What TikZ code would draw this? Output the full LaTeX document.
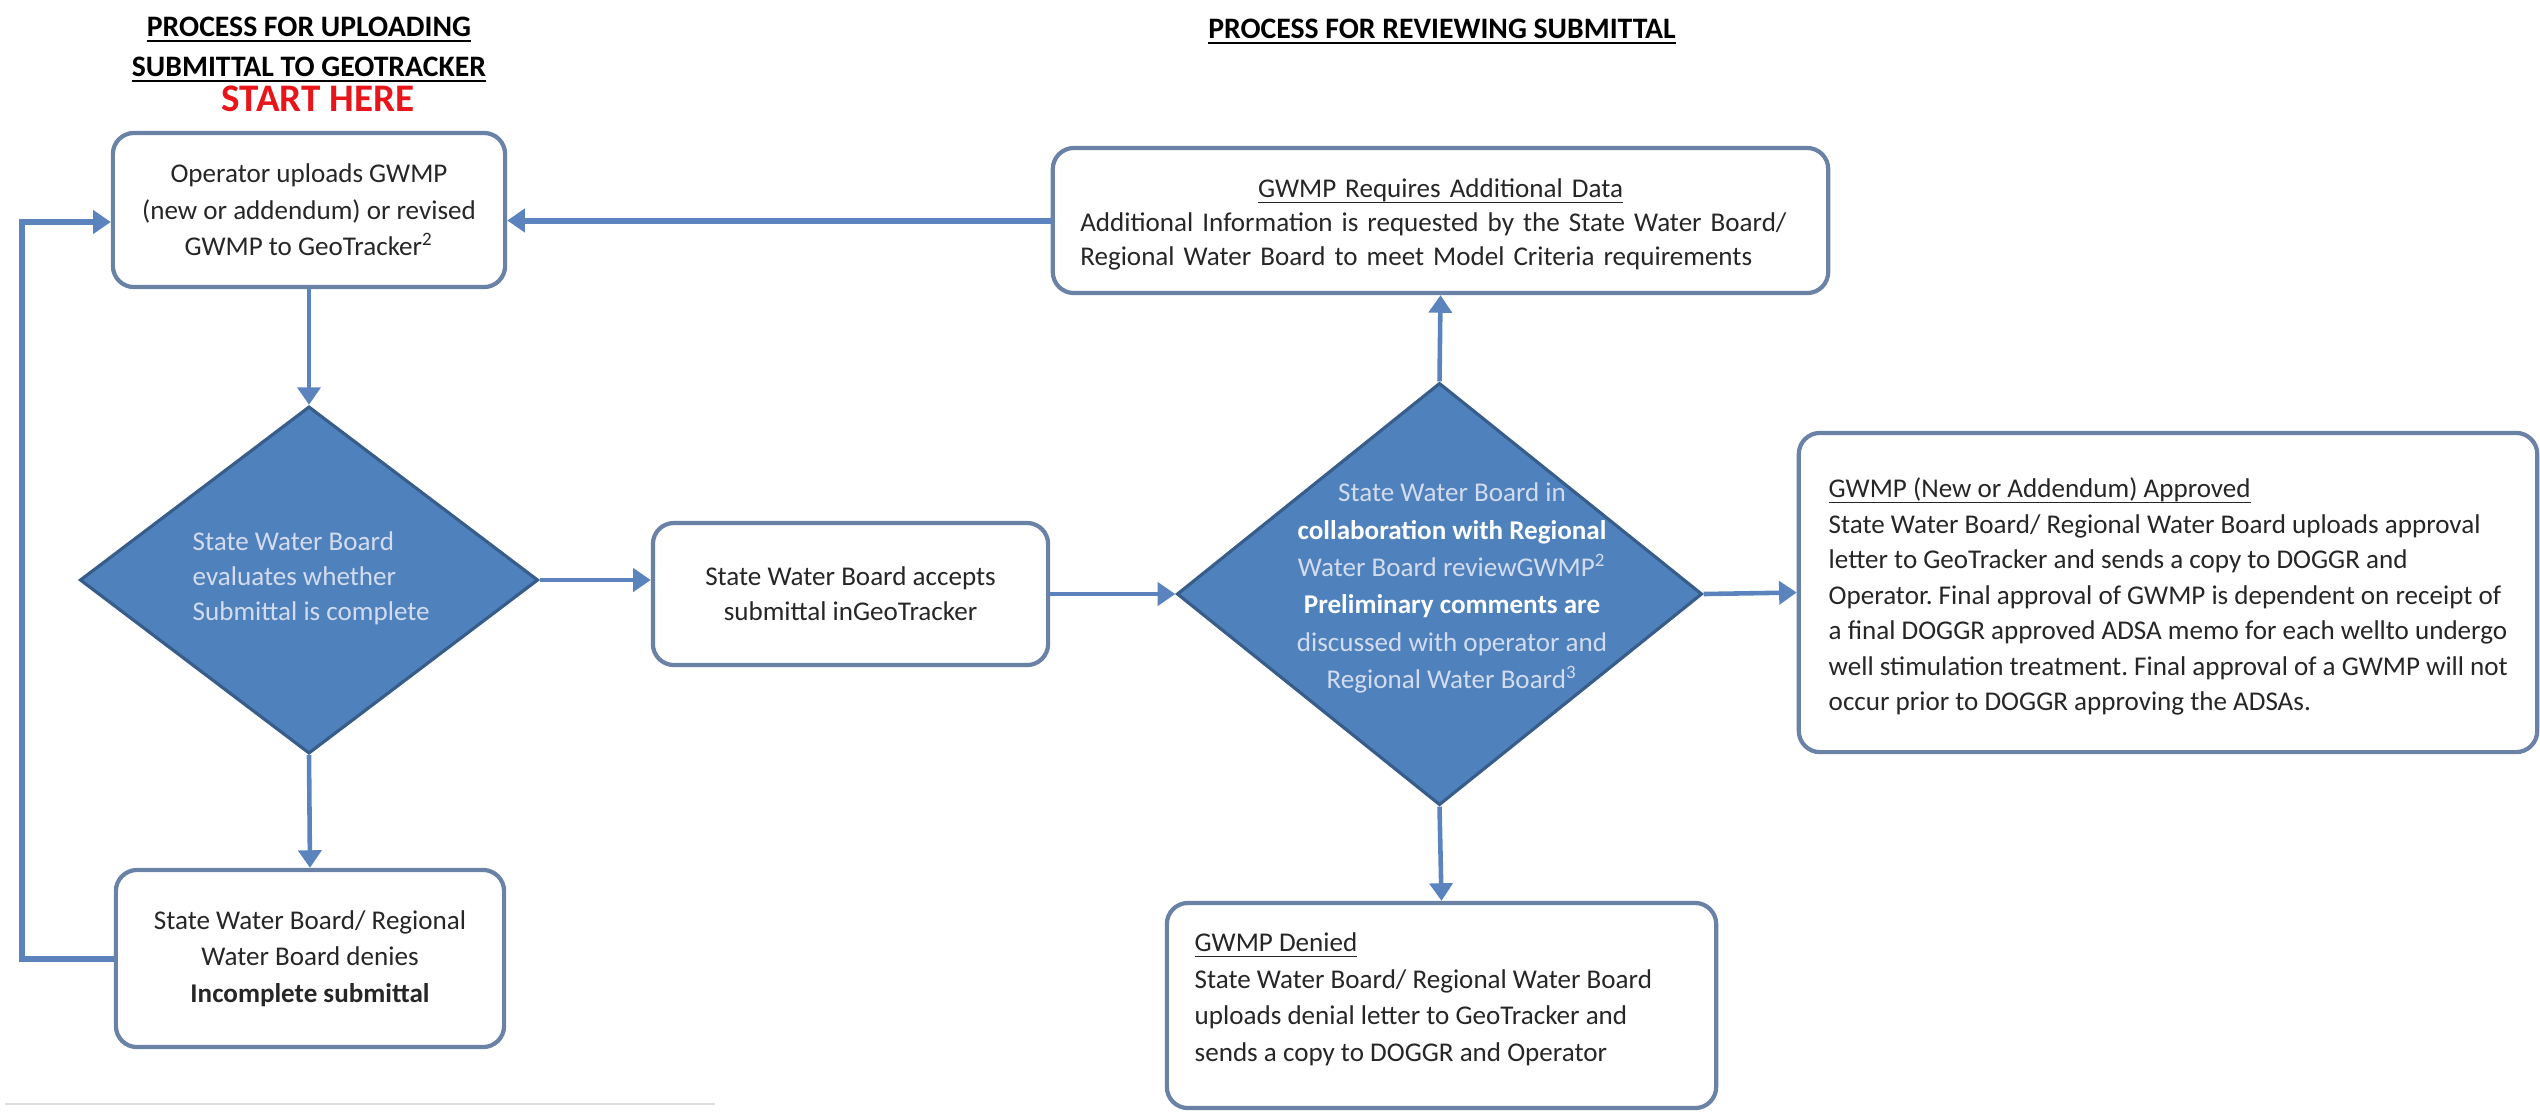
\documentclass[tikz,border=0pt]{standalone}
\usepackage{fontspec}
\setmainfont{Carlito}
\usetikzlibrary{shapes.geometric,arrows.meta}
\definecolor{dfill}{HTML}{4F81BD}
\definecolor{dline}{HTML}{385D8A}
\definecolor{bline}{HTML}{6A82A6}
\definecolor{aline}{HTML}{5B84BF}
\definecolor{dtext}{HTML}{D3DCEE}
\definecolor{sred}{HTML}{E8151B}
\newcommand{\myul}[1]{\underline{\smash{#1}}}
\frenchspacing
\begin{document}
\begin{tikzpicture}[x=0.01cm,y=-0.01cm,
  box/.style={draw=bline, line width=1.2pt, rounded corners=6pt, fill=white, inner sep=0pt, text=black!85, font=\fontsize{7.7pt}{10.2pt}\selectfont},
  btxt/.style={inner sep=0pt, text=black!85},
  dia/.style={diamond, draw=dline, line width=0.9pt, fill=dfill, inner sep=0pt},
  arr/.style={draw=aline, line width=1.3pt, -{Triangle[width=6.5pt,length=5pt]}},
  ttl/.style={font=\fontsize{8.45pt}{10pt}\selectfont\bfseries, text=black, inner sep=0pt, anchor=base},
  dtxt/.style={text=dtext, inner sep=0pt},
]
\useasboundingbox (0,0) rectangle (2540,1111);

% titles
\node[ttl] (t1a) at (309,36) {\myul{PROCESS FOR UPLOADING}};
\node[ttl] (t1b) at (309,76) {\myul{SUBMITTAL TO GEOTRACKER}};
\node[font=\fontsize{11.1pt}{12pt}\selectfont\bfseries, text=sred, inner sep=0pt, anchor=base] (start) at (318,111) {START HERE};
\node[ttl] (t2) at (1442,38) {\myul{PROCESS FOR REVIEWING SUBMITTAL}};

% left column
\node[box, minimum width=3.92cm, minimum height=1.54cm, align=center, font=\fontsize{7.7pt}{10.4pt}\selectfont] (b1) at (309,210)
  {Operator uploads GWMP\\(new or addendum) or revised\\GWMP to GeoTracker\textsuperscript{2}};
\node[dia, minimum width=4.58cm, minimum height=3.47cm] (d1) at (309,580) {};
\node[dtxt, align=left, anchor=west, font=\fontsize{7.7pt}{10pt}\selectfont] (d1t) at (192,578)
  {State Water Board\\evaluates whether\\Submittal is complete};
\node[box, minimum width=3.88cm, minimum height=1.77cm, align=center, font=\fontsize{7.7pt}{10.4pt}\selectfont] (inc) at (310,958.5)
  {State Water Board/ Regional\\Water Board denies\\\textbf{Incomplete submittal}};

% middle
\node[box, minimum width=3.95cm, minimum height=1.42cm, align=center, font=\fontsize{7.7pt}{10pt}\selectfont] (acc) at (850.5,594)
  {State Water Board accepts\\submittal inGeoTracker};

% right part
\node[box, minimum width=7.75cm, minimum height=1.45cm] (req) at (1440.5,220.5) {};
\node[btxt, text width=7.2cm, align=left, anchor=north, font=\fontsize{7.7pt}{9.6pt}\selectfont] (reqt) at (1440.5,197)
  {\makebox[\linewidth][c]{\myul{GWMP Requires Additional Data}}\\Additional Information is requested by the State Water Board/\\Regional Water Board to meet Model Criteria requirements};
\node[dia, minimum width=5.25cm, minimum height=4.22cm] (d2) at (1439.5,594) {};
\node[dtxt, align=center, font=\fontsize{7.7pt}{10.6pt}\selectfont] (d2t) at (1452,588)
  {State Water Board in\\\textcolor{white}{\textbf{collaboration with Regional}}\\Water Board reviewGWMP\textsuperscript{2}\\\textcolor{white}{\textbf{Preliminary comments are}}\\discussed with operator and\\Regional Water Board\textsuperscript{3}};
\node[box, minimum width=7.38cm, minimum height=3.19cm] (app) at (2168,592.5) {};
\node[btxt, align=left, anchor=north west, font=\fontsize{7.7pt}{10.1pt}\selectfont] (appt) at (1828,497)
  {\myul{GWMP (New or Addendum) Approved}\\State Water Board/ Regional Water Board uploads approval\\letter to GeoTracker and sends a copy to DOGGR and\\Operator. Final approval of GWMP is dependent on receipt of\\a final DOGGR approved ADSA memo for each wellto undergo\\well stimulation treatment. Final approval of a GWMP will not\\occur prior to DOGGR approving the ADSAs.};
\node[box, minimum width=5.49cm, minimum height=2.05cm] (den) at (1441.5,1005.5) {};
\node[btxt, align=left, anchor=north west, font=\fontsize{7.7pt}{10.4pt}\selectfont] (dent) at (1194,951)
  {\myul{GWMP Denied}\\State Water Board/ Regional Water Board\\uploads denial letter to GeoTracker and\\sends a copy to DOGGR and Operator};

% connectors
\draw[arr] (b1.south) -- (d1.north);
\draw[arr] (d1.south) -- (inc.north);
\coordinate (fbT) at (22,222);
\draw[arr, line width=1.7pt] (inc.west) -| (fbT) -- (b1.west |- fbT);
\draw[arr] (d1.east) -- (d1.east -| acc.west);
\draw[arr] (acc.east) -- (d2.west);
\draw[arr] (d2.north) -- (req.south);
\draw[arr, line width=1.7pt] (req.west) -- (req.west -| b1.east);
\draw[arr] (d2.east) -- (app.west);
\draw[arr] (d2.south) -- (den.north);

% faint rule at bottom left
\draw[gray!25, line width=0.6pt] (5,1104) -- (715,1104);
\end{tikzpicture}
\end{document}
